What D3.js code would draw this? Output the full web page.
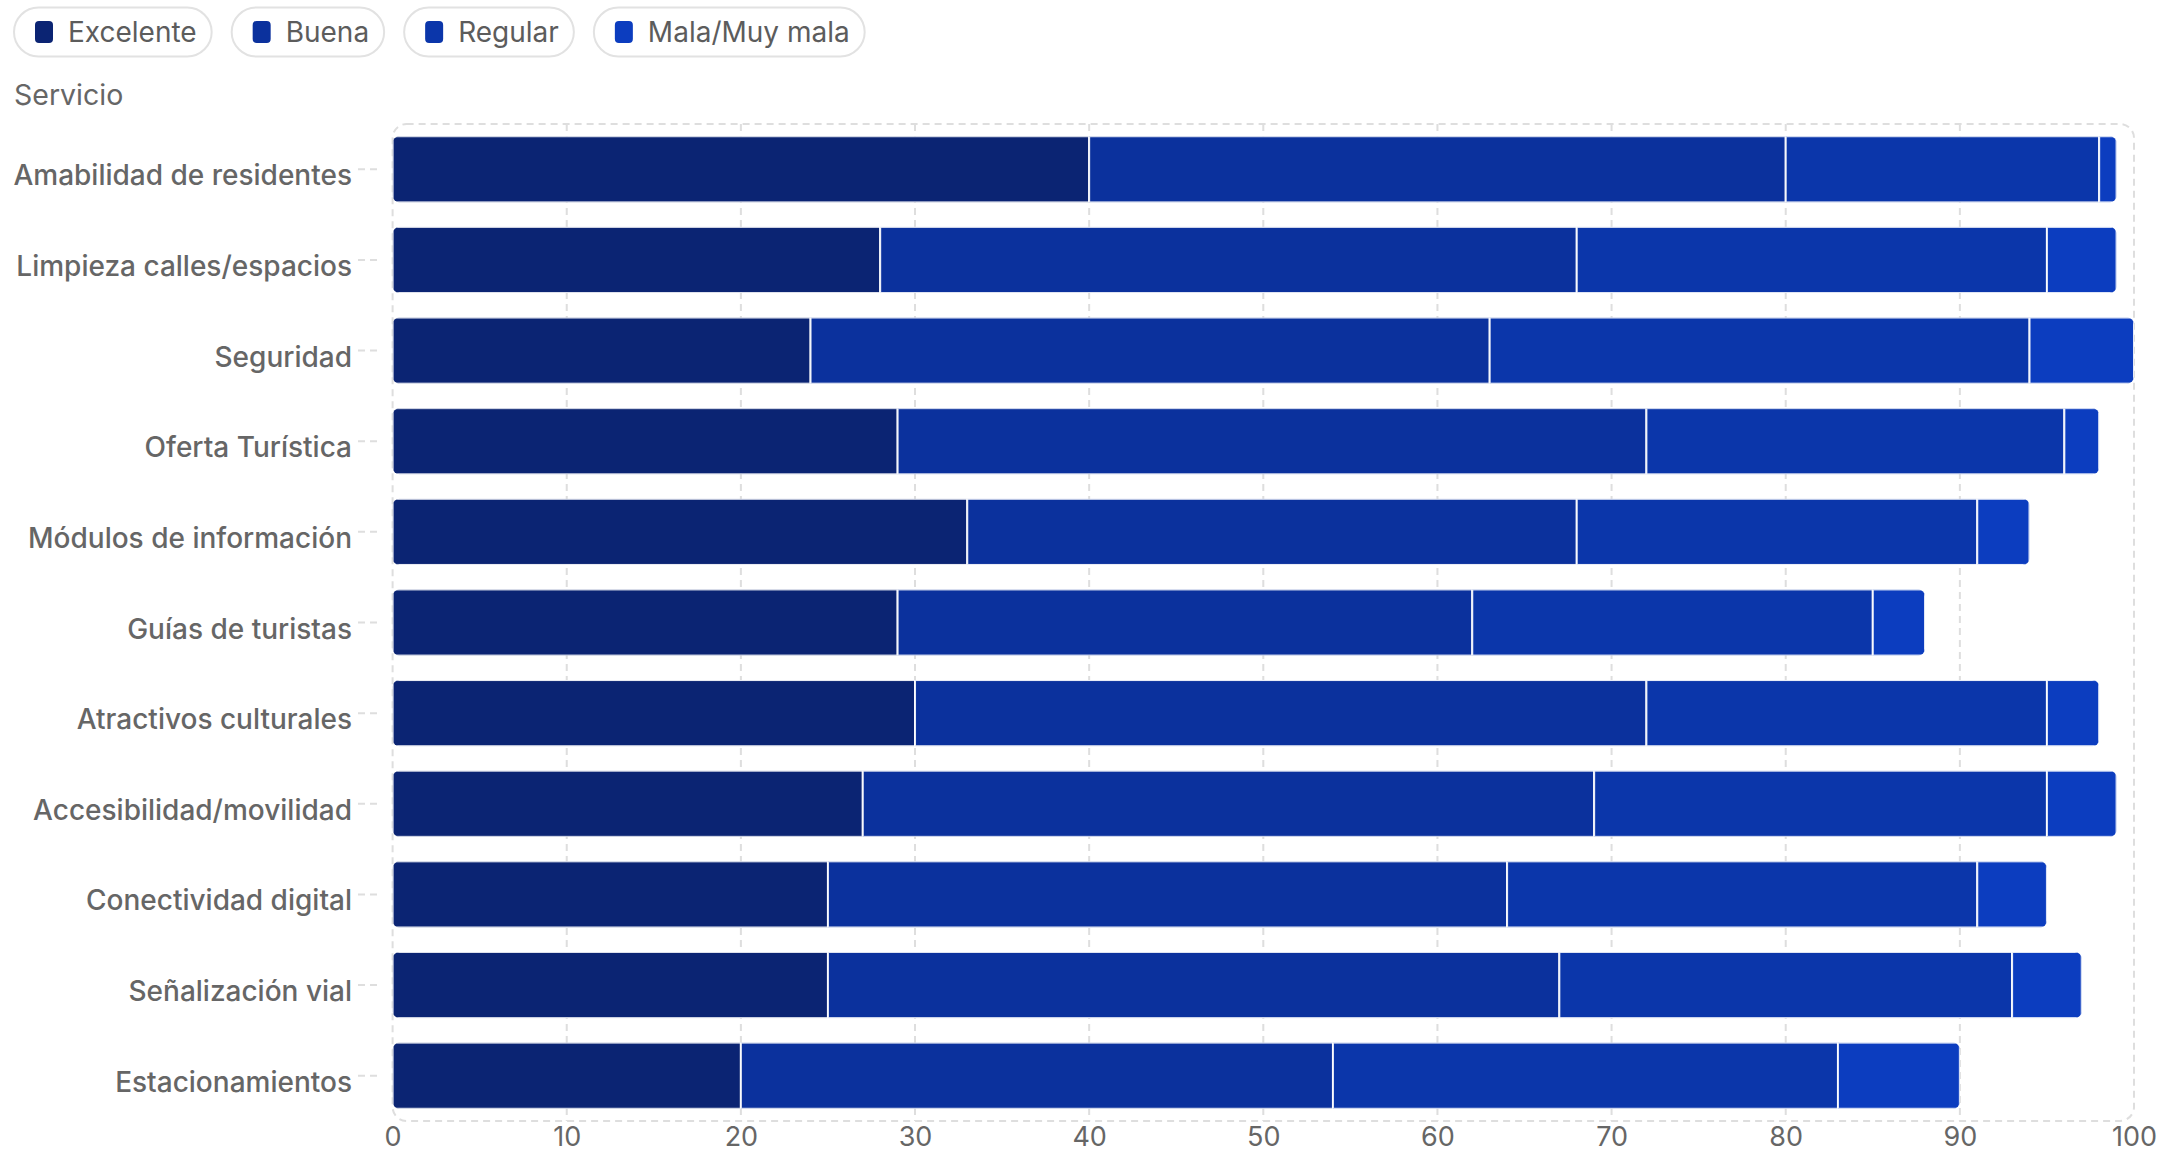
<!DOCTYPE html>
<html>
<head>
<meta charset="utf-8">
<script src="https://cdn.jsdelivr.net/npm/d3@7/dist/d3.min.js"></script>
<style>
  html, body { margin: 0; padding: 0; background: #fff; }
  svg { display: block; font-family: Inter, "Noto Sans", sans-serif; }
</style>
</head>
<body>
<svg id="chart" width="2183" height="1154"></svg>
<script>
const categories = [
  "Amabilidad de residentes",
  "Limpieza calles/espacios",
  "Seguridad",
  "Oferta Turística",
  "Módulos de información",
  "Guías de turistas",
  "Atractivos culturales",
  "Accesibilidad/movilidad",
  "Conectividad digital",
  "Señalización vial",
  "Estacionamientos"
];
const seriesNames = ["Excelente", "Buena", "Regular", "Mala/Muy mala"];
const excelente = [40, 28, 24, 29, 33, 29, 30, 27, 25, 25, 20];
const buena     = [40, 40, 39, 43, 35, 33, 42, 42, 39, 42, 34];
const regular   = [18, 27, 31, 24, 23, 23, 23, 26, 27, 26, 29];
const mala      = [1, 4, 6, 2, 3, 3, 3, 4, 4, 4, 7];
const xTicks = [0, 10, 20, 30, 40, 50, 60, 70, 80, 90, 100];
const colors = ["#0b2473", "#0b319d", "#0b36aa", "#0c3dbf"];
const yAxisTitle = "Servicio";

(function () {
const rows = categories.map((c, i) => ({
  cat: c, Excelente: excelente[i], Buena: buena[i], Regular: regular[i], "Mala/Muy mala": mala[i]
}));

const svg = d3.select("#chart");
const textColor = "#666666";
const gridColor = "#dedede";

const pLeft = 392.6, pRight = 2134, pTop = 124, pBottom = 1121;
const x = d3.scaleLinear().domain([0, 100]).range([pLeft, pRight]);
const y = d3.scaleBand().domain(categories).range([pTop, pBottom]).paddingInner(0.27).paddingOuter(0.135);
const color = d3.scaleOrdinal().domain(seriesNames).range(colors);

// Legend
const legend = svg.append("g");
let lx = 14;
seriesNames.forEach((name) => {
  const g = legend.append("g");
  const t = g.append("text")
    .attr("x", lx + 54).attr("y", 32)
    .attr("dominant-baseline", "central")
    .attr("font-size", 28).attr("fill", "#5c5c5c")
    .text(name);
  const tw = t.node().getComputedTextLength();
  const w = 54 + tw + 15;
  g.insert("rect", "text")
    .attr("x", lx).attr("y", 7.5).attr("width", w).attr("height", 49)
    .attr("rx", 24.5).attr("fill", "#fff").attr("stroke", "#e2e2e2").attr("stroke-width", 2);
  g.append("rect")
    .attr("x", lx + 21).attr("y", 21).attr("width", 18).attr("height", 22)
    .attr("rx", 4).attr("fill", color(name));
  lx += w + 20;
});

// Y axis title
svg.append("text").attr("x", 14).attr("y", 94)
  .attr("dominant-baseline", "central")
  .attr("font-size", 28.5).attr("fill", textColor).text(yAxisTitle);

// Plot frame
svg.append("rect")
  .attr("x", pLeft).attr("y", pTop).attr("width", pRight - pLeft).attr("height", pBottom - pTop)
  .attr("rx", 14).attr("fill", "none")
  .attr("stroke", gridColor).attr("stroke-width", 2).attr("stroke-dasharray", "7,5");

// Gridlines
svg.append("g").selectAll("line").data(xTicks.filter(d => d > 0 && d < 100)).join("line")
  .attr("x1", d => x(d)).attr("x2", d => x(d))
  .attr("y1", pTop).attr("y2", pBottom)
  .attr("stroke", gridColor).attr("stroke-width", 2).attr("stroke-dasharray", "7,5");

// Y axis
const yAxis = d3.axisLeft(y).tickSize(0).tickPadding(0);
const yg = svg.append("g").call(yAxis);
yg.select(".domain").remove();
yg.selectAll(".tick text").remove();
yg.selectAll(".tick").each(function(d) {
  const g = d3.select(this);
  g.append("line").attr("x1", 358).attr("x2", 377).attr("y1", 0).attr("y2", 0)
    .attr("stroke", gridColor).attr("stroke-width", 2).attr("stroke-dasharray", "7,5");
  g.append("text").attr("x", 352).attr("y", 6)
    .attr("text-anchor", "end").attr("dominant-baseline", "central")
    .attr("font-size", 28).attr("font-weight", 500).attr("fill", textColor).attr("font-family", "Inter, sans-serif")
    .text(d);
});

// X axis
const xAxis = d3.axisBottom(x).tickValues(xTicks).tickSize(0).tickPadding(0);
const xg = svg.append("g").attr("transform", `translate(0,${pBottom})`).call(xAxis);
xg.select(".domain").remove();
xg.selectAll(".tick text")
  .attr("y", 15).attr("dy", null)
  .attr("dominant-baseline", "central")
  .attr("font-size", 27).attr("fill", textColor).attr("font-family", "Inter, sans-serif");

// Bars
const stacked = d3.stack().keys(seriesNames)(rows);
const defs = svg.append("defs");
rows.forEach((r, i) => {
  const total = seriesNames.reduce((s, k) => s + r[k], 0);
  defs.append("clipPath").attr("id", "clip" + i)
    .append("rect")
    .attr("x", x(0)).attr("y", y(r.cat))
    .attr("width", x(total) - x(0)).attr("height", y.bandwidth())
    .attr("rx", 7);
});
const barsG = svg.append("g");
categories.forEach((c, i) => {
  const rowG = barsG.append("g").attr("clip-path", `url(#clip${i})`);
  stacked.forEach(layer => {
    const d = layer[i];
    rowG.append("rect")
      .attr("x", x(d[0])).attr("y", y(c))
      .attr("width", x(d[1]) - x(d[0])).attr("height", y.bandwidth())
      .attr("fill", color(layer.key))
      .attr("stroke", "#ffffff").attr("stroke-opacity", 0.9).attr("stroke-width", 2);
  });
});
})();
</script>
</body>
</html>
